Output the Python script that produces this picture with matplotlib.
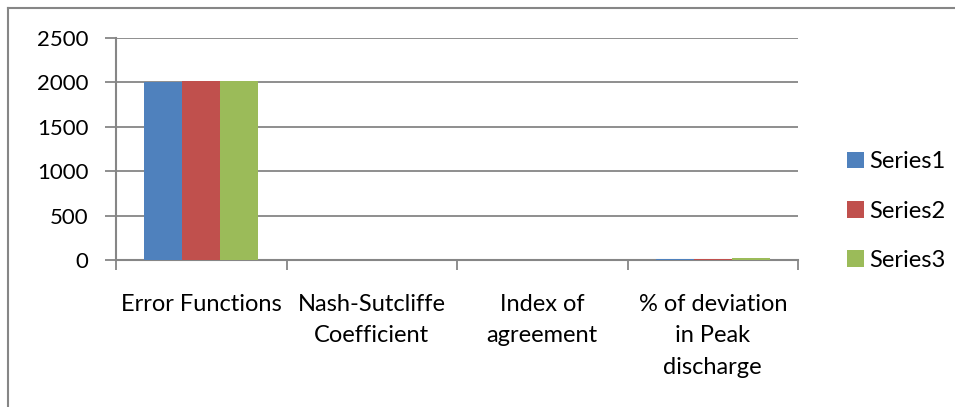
import matplotlib
matplotlib.use("Agg")
import matplotlib.pyplot as plt
from matplotlib.lines import Line2D
import numpy as np

categories = ["Error Functions", "Nash-Sutcliffe\nCoefficient", "Index of\nagreement",
              "% of deviation\nin Peak\ndischarge"]
series1 = [2010, 0.9, 0.9, 15]
series2 = [2011, 0.9, 0.9, 18]
series3 = [2014, 0.9, 0.9, 30]
series_names = ["Series1", "Series2", "Series3"]
colors = ["#4F81BD", "#C0504D", "#9BBB59"]
yticks = [0, 500, 1000, 1500, 2000, 2500]

plt.rcParams['font.family'] = ['Lato', 'DejaVu Sans']
grey = "#868686"

fig = plt.figure(figsize=(9.55, 4.07), dpi=100)
ax = fig.add_axes([116/955, 1-260.3/407, (798-116)/955, (260.3-38)/407])

x = np.arange(len(categories))
w = 0.222
for i, (vals, name, c) in enumerate(zip([series1, series2, series3], series_names, colors)):
    ax.bar(x + (i-1)*w, vals, width=w, color=c, label=name, zorder=3)

ax.set_xlim(-0.5, len(categories)-0.5)
ax.set_ylim(0, 2500)
ax.set_yticks(yticks)
ax.set_yticklabels([str(t) for t in yticks], fontsize=16)
ax.yaxis.grid(True, color=grey, linewidth=1.3, zorder=0)

ax.set_xticks(x)
ax.set_xticklabels(categories, fontsize=17, linespacing=1.62, va='top')
ax.tick_params(axis='x', length=0, pad=24)
# category boundary ticks
ax.set_xticks(np.arange(len(categories)+1) - 0.5, minor=True)
ax.tick_params(axis='x', which='minor', length=7, width=1.3, color=grey, direction='out')
ax.tick_params(axis='y', length=8, width=1.3, color=grey, direction='out', pad=12)

for s in ['top', 'right']:
    ax.spines[s].set_visible(False)
for s in ['left', 'bottom']:
    ax.spines[s].set_color(grey)
    ax.spines[s].set_linewidth(1.5)

ax.legend(loc='center left', bbox_to_anchor=(826/955, 1-211/407), bbox_transform=fig.transFigure,
          frameon=False, fontsize=17, handlelength=0.7, handleheight=0.7,
          handletextpad=0.25, labelspacing=1.2)

# outer chart border
fig.add_artist(Line2D([8/955, 1], [1-8/407, 1-8/407], color=grey, linewidth=1.5, transform=fig.transFigure))
fig.add_artist(Line2D([8/955, 8/955], [0, 1-8/407], color=grey, linewidth=1.5, transform=fig.transFigure))

fig.savefig("out.png", dpi=100, facecolor="white")
